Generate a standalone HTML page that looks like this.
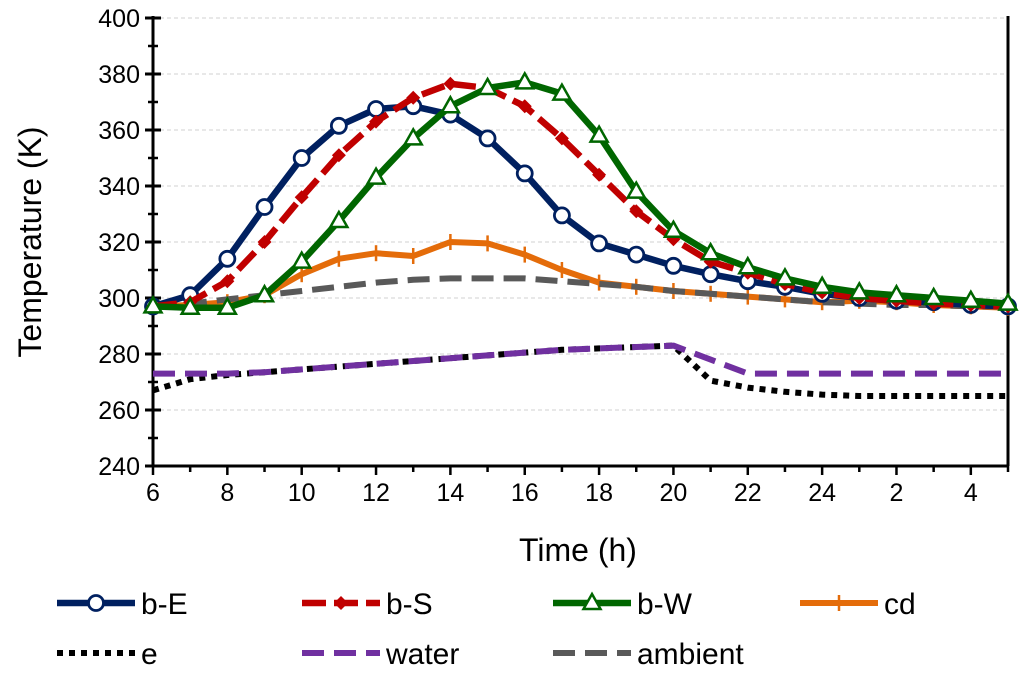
<!DOCTYPE html>
<html><head><meta charset="utf-8"><style>
body{margin:0;background:#fff;}
svg{display:block;font-family:"Liberation Sans",Arial,sans-serif;}
</style></head><body>
<svg id="chart" width="1024" height="676" viewBox="0 0 1024 676">
<g id="grid"></g><g id="axes"></g><g id="series"></g><g id="legend"></g>
</svg>
<script>
const hours=[6,7,8,9,10,11,12,13,14,15,16,17,18,19,20,21,22,23,24,25,26,27,28,29];
const xTickValues=[6,8,10,12,14,16,18,20,22,24,26,28];
const xTickLabels=["6","8","10","12","14","16","18","20","22","24","2","4"];
const yTicks=[240,260,280,300,320,340,360,380,400];
const bE=[297,301,314,332.5,350,361.5,367.5,368.5,365.5,357,344.5,329.5,319.5,315.5,311.5,308.5,306,304,301.5,300,299,298.5,297.5,297];
const bS=[297,298.5,306,320,336,351,363,371.5,376.5,375,368.5,357,344,331,321,313,309,305,302,300,299,298,297.5,297];
const bW=[297,296.5,296.5,301,313,327.5,343,357,368.5,375,377,373,358,338,324,316,311,307,304,302,301,300,299,298];
const cd=[297,297.5,298.5,301,308.5,314,316,315,320,319.5,315.5,310,305.5,304,302.5,301.5,300.5,299.5,298.5,299,298.5,297.5,297,296.5];
const ambient=[297,298,299.5,301,302.5,304,305.5,306.5,307,307,307,306,305,304,302.5,301.5,300.5,299.5,298.5,298,297.5,297.5,297,297];
const water=[273,273,273,273.5,274.5,275.5,276.5,277.5,278.5,279.5,280.5,281.5,282,282.5,283,278,273,273,273,273,273,273,273,273];
const eSeries=[267,271,272.5,273.5,274.5,275.5,276.5,277.5,278.5,279.5,280.5,281.5,282,282.5,283,270.5,268,266.5,265.5,265,265,265,265,265];

const NS="http://www.w3.org/2000/svg";
const X0=153,X1=1008,Y0=466,Y1=18;
const xs=h=>X0+(h-6)*(X1-X0)/23;
const ys=v=>Y0-(v-240)*(Y0-Y1)/160;
function mk(tag,attrs,parent){const e=document.createElementNS(NS,tag);for(const k in attrs)e.setAttribute(k,attrs[k]);parent.appendChild(e);return e;}
const grid=document.getElementById('grid'),axes=document.getElementById('axes'),ser=document.getElementById('series'),leg=document.getElementById('legend');

yTicks.forEach(v=>{
 if(v>240){const g=mk('line',{x1:X0,x2:X1,y1:ys(v),y2:ys(v),stroke:'#d9d9d9','stroke-width':1.2,'stroke-dasharray':'4 3'},grid);
 
 }
 const t=mk('text',{x:X0-13,y:ys(v)+9,'text-anchor':'end','font-size':25,fill:'#000'},axes);t.textContent=v;
 
 
 mk('line',{x1:X0-8,x2:X0+8,y1:ys(v),y2:ys(v),stroke:'#000','stroke-width':3},axes);
 if(v<400) mk('line',{x1:X0-5,x2:X0+5,y1:ys(v+10),y2:ys(v+10),stroke:'#000','stroke-width':2.5},axes);
});
hours.forEach(h=>{mk('line',{x1:xs(h),x2:xs(h),y1:Y0,y2:Y0+(h%2===0?9:6),stroke:'#000','stroke-width':2.5},axes);});
xTickValues.forEach((h,i)=>{const t=mk('text',{x:xs(h),y:Y0+35,'text-anchor':'middle','font-size':25,fill:'#000'},axes);t.textContent=xTickLabels[i];
 
 });
const ya=mk('line',{x1:X0,x2:X0,y1:Y1-2,y2:Y0,stroke:'#000','stroke-width':3},axes);


const xa=mk('line',{x1:X0,x2:X1,y1:Y0,y2:Y0,stroke:'#000','stroke-width':3},axes);


const ra=mk('line',{x1:X1,x2:X1,y1:Y1-2,y2:Y0,stroke:'#000','stroke-width':3},axes);


const xt=mk('text',{x:578,y:561,'text-anchor':'middle','font-size':32},axes);xt.textContent='Time (h)';


const yt=mk('text',{x:0,y:0,'text-anchor':'middle','font-size':32,transform:'translate(41,242) rotate(-90)'},axes);yt.textContent='Temperature (K)';



function marker(type,x,y,color,parent){
 if(type==='circle')mk('circle',{cx:x,cy:y,r:7.5,fill:'#fff',stroke:color,'stroke-width':2.8},parent);
 else if(type==='diamond')mk('path',{d:`M${x} ${y-7}L${x+7} ${y}L${x} ${y+7}L${x-7} ${y}Z`,fill:color},parent);
 else if(type==='tri')mk('path',{d:`M${x} ${y-9}L${x+8.5} ${y+6}L${x-8.5} ${y+6}Z`,fill:'#fff',stroke:color,'stroke-width':2.5},parent);
 else if(type==='plus'){mk('line',{x1:x,x2:x,y1:y-8,y2:y+8,stroke:color,'stroke-width':2.5},parent);}
}
const defs=[
 {name:'e',data:eSeries,color:'#000',w:6,dash:'6 6',m:null,lx:57,ly:653},
 {name:'water',data:water,color:'#7030a0',w:6,dash:'22 10',m:null,lx:302,ly:653},
 {name:'ambient',data:ambient,color:'#595959',w:6,dash:'22 10',m:null,lx:553,ly:653},
 {name:'cd',data:cd,color:'#e46c0a',w:6,dash:null,m:'plus',lx:800,ly:603},
 {name:'b-E',data:bE,color:'#002060',w:6.5,dash:null,m:'circle',lx:57,ly:603},
 {name:'b-S',data:bS,color:'#c00000',w:6.5,dash:'24 8',m:'diamond',lx:302,ly:603},
 {name:'b-W',data:bW,color:'#006600',w:6.5,dash:null,m:'tri',lx:553,ly:603}
];
const order=[0,1,3,2,4,5,6];
order.forEach(i=>{const d=defs[i];
 const g=mk('g',{},ser);
 
 
 const pts=d.data.map((v,j)=>xs(hours[j])+','+ys(v)).join(' ');
 const a={points:pts,fill:'none',stroke:d.color,'stroke-width':d.w,'stroke-linejoin':'round'};
 if(d.dash)a['stroke-dasharray']=d.dash;
 mk('polyline',a,g);
 if(d.m)d.data.forEach((v,j)=>marker(d.m,xs(hours[j]),ys(v),d.color,g));
});
defs.forEach(d=>{
 const g=mk('g',{},leg);
 
 
 const a={x1:d.lx,x2:d.lx+78,y1:d.ly,y2:d.ly,stroke:d.color,'stroke-width':d.w};
 if(d.dash)a['stroke-dasharray']=d.dash;
 mk('line',a,g);
 if(d.m)marker(d.m,d.lx+39,d.ly,d.color,g);
 const t=mk('text',{x:d.lx+84,y:d.ly+11,'font-size':30},g);t.textContent=d.name;
});
</script>
</body></html>
